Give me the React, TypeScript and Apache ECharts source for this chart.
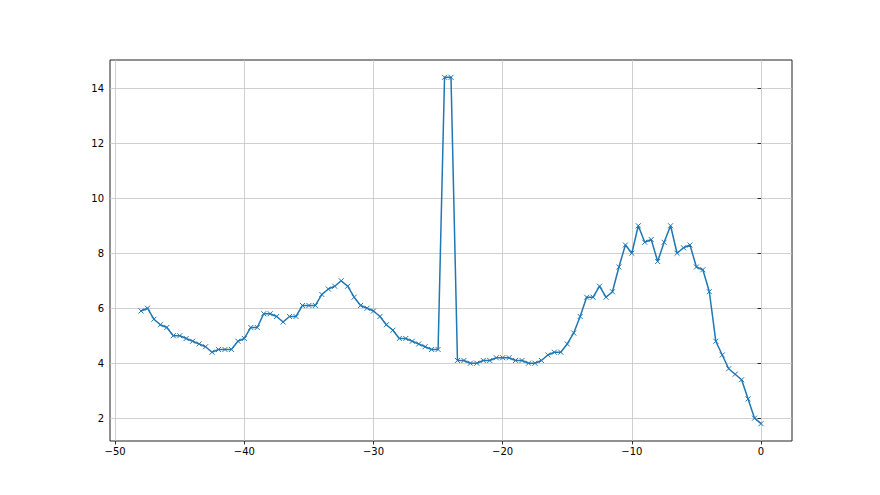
import React, { useEffect, useRef } from "react";
import * as echarts from "echarts";

const xValues = [
  -48, -47.5, -47, -46.5, -46, -45.5, -45, -44.5, -44, -43.5, -43, -42.5, -42, -41.5, -41, -40.5,
  -40, -39.5, -39, -38.5, -38, -37.5, -37, -36.5, -36, -35.5, -35, -34.5, -34, -33.5, -33, -32.5,
  -32, -31.5, -31, -30.5, -30, -29.5, -29, -28.5, -28, -27.5, -27, -26.5, -26, -25.5, -25, -24.5,
  -24, -23.5, -23, -22.5, -22, -21.5, -21, -20.5, -20, -19.5, -19, -18.5, -18, -17.5, -17, -16.5,
  -16, -15.5, -15, -14.5, -14, -13.5, -13, -12.5, -12, -11.5, -11, -10.5, -10, -9.5, -9, -8.5,
  -8, -7.5, -7, -6.5, -6, -5.5, -5, -4.5, -4, -3.5, -3, -2.5, -2, -1.5, -1, -0.5, 0,
];

const yValues = [
  5.9, 6.0, 5.6, 5.4, 5.3, 5.0, 5.0, 4.9, 4.8, 4.7, 4.6, 4.4, 4.5, 4.5, 4.5, 4.8,
  4.9, 5.3, 5.3, 5.8, 5.8, 5.7, 5.5, 5.7, 5.7, 6.1, 6.1, 6.1, 6.5, 6.7, 6.8, 7.0,
  6.8, 6.4, 6.1, 6.0, 5.9, 5.7, 5.4, 5.2, 4.9, 4.9, 4.8, 4.7, 4.6, 4.5, 4.5, 14.4,
  14.4, 4.1, 4.1, 4.0, 4.0, 4.1, 4.1, 4.2, 4.2, 4.2, 4.1, 4.1, 4.0, 4.0, 4.1, 4.3,
  4.4, 4.4, 4.7, 5.1, 5.7, 6.4, 6.4, 6.8, 6.4, 6.6, 7.5, 8.3, 8.0, 9.0, 8.4, 8.5,
  7.7, 8.4, 9.0, 8.0, 8.2, 8.3, 7.5, 7.4, 6.6, 4.8, 4.3, 3.8, 3.6, 3.4, 2.7, 2.0, 1.8,
];

const xTicks = [-50, -40, -30, -20, -10, 0];
const yTicks = [2, 4, 6, 8, 10, 12, 14];

const fmt = (v: number) => String(v).replace("-", "\u2212");

export default function App() {
  const ref = useRef<HTMLDivElement>(null);
  useEffect(() => {
    if (!ref.current) return;
    const chart = echarts.init(ref.current, null, { renderer: "svg" });
    const axisCommon = {
      type: "value" as const,
      axisLine: { show: false },
      axisTick: { show: true, length: 3.5, lineStyle: { color: "#000", width: 0.8 } },
      splitLine: { show: true, lineStyle: { color: "#c4c4c4", width: 0.8 } },
    };
    chart.setOption({
      animation: false,
      backgroundColor: "#fff",
      grid: {
        left: 110,
        right: 88,
        top: 60,
        bottom: 54,
        show: true,
        borderColor: "#222",
        borderWidth: 1,
        backgroundColor: "transparent",
      },
      xAxis: {
        ...axisCommon,
        min: -50.4,
        max: 2.4,
        axisTick: { ...axisCommon.axisTick, customValues: xTicks },
        axisLabel: {
          customValues: xTicks,
          formatter: (v: number) => fmt(v),
          fontFamily: "DejaVu Sans",
          fontSize: 10,
          color: "#000",
          margin: 5,
        },
      },
      yAxis: {
        ...axisCommon,
        min: 1.17,
        max: 15.03,
        axisTick: { ...axisCommon.axisTick, customValues: yTicks },
        axisLabel: {
          customValues: yTicks,
          formatter: (v: number) => fmt(v),
          fontFamily: "DejaVu Sans",
          fontSize: 10,
          color: "#000",
          margin: 6,
        },
      },
      series: [
        {
          type: "line",
          data: xValues.map((x, i) => [x, yValues[i]]),
          symbol: "path://M0,0L10,10M10,0L0,10",
          symbolSize: 5,
          showAllSymbol: true,
          lineStyle: { color: "#1f77b4", width: 1.5 },
          itemStyle: { color: "#1f77b4", borderColor: "#1f77b4", borderWidth: 1 },
        },
      ],
    });
    return () => chart.dispose();
  }, []);
  return (
    <div
      ref={ref}
      style={{ position: "fixed", left: 0, top: 0, width: 880, height: 495 }}
    />
  );
}
